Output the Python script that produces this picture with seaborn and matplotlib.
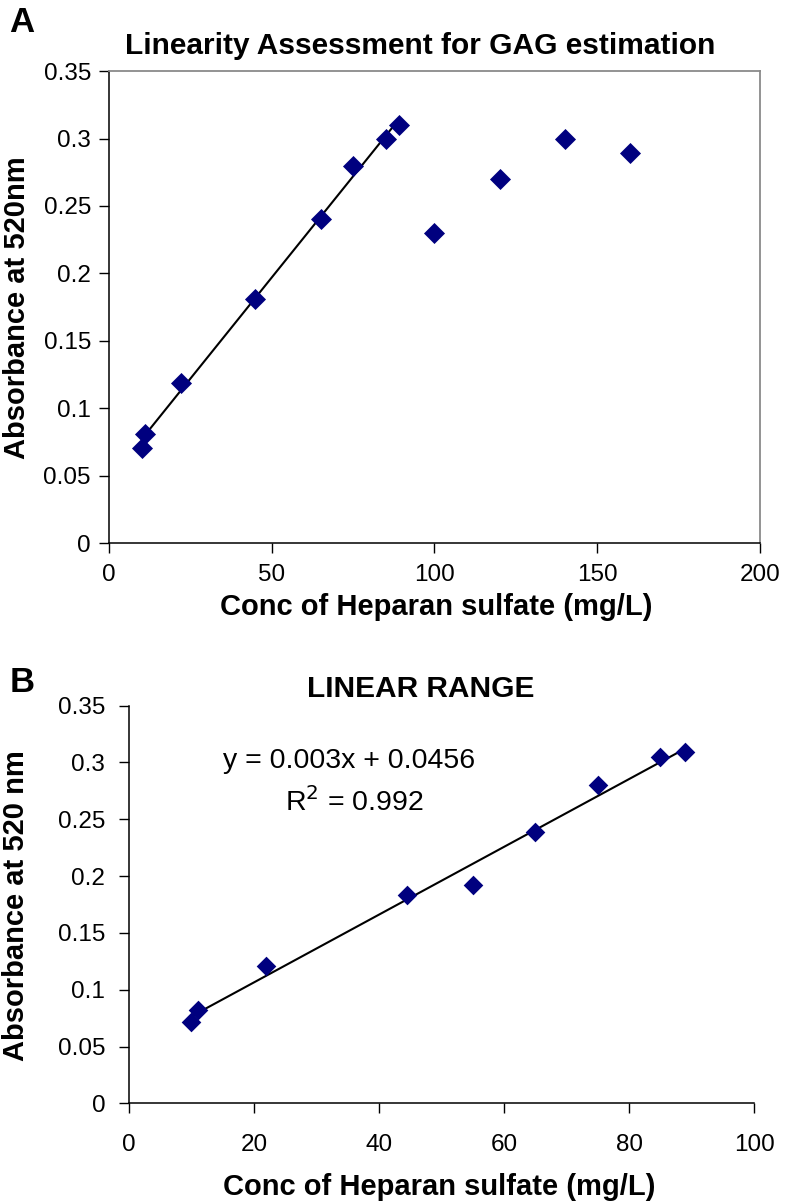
import numpy as np
import pandas as pd
import matplotlib
matplotlib.use("Agg")
import matplotlib.pyplot as plt
import seaborn as sns


# =========================================================
# DATA
# =========================================================
# panel A: full concentration range
conc_a = [10, 11, 22, 45, 65, 75, 85, 89, 100, 120, 140, 160]
abs_a = [0.071, 0.081, 0.119, 0.181, 0.240, 0.280, 0.300, 0.310,
         0.230, 0.270, 0.300, 0.289]
n_linear_a = 8  # first points used for the trend line

# panel B: linear range only
conc_b = [10, 11, 22, 44.5, 55, 65, 75, 85, 89]
abs_b = [0.072, 0.082, 0.121, 0.183, 0.192, 0.239, 0.280, 0.305, 0.309]

eq_text = "y = 0.003x + 0.0456"
r2_text = "R$^2$ = 0.992"

xticks_a = [0, 50, 100, 150, 200]
xticks_b = [0, 20, 40, 60, 80, 100]
yticks = [0, 0.05, 0.1, 0.15, 0.2, 0.25, 0.3, 0.35]

NAVY = "#00007f"

sns.set_theme(style="ticks")
plt.rcParams["font.family"] = ["Liberation Sans", "DejaVu Sans"]
plt.rcParams["text.color"] = "black"
plt.rcParams["axes.labelcolor"] = "black"
plt.rcParams["xtick.color"] = "black"
plt.rcParams["ytick.color"] = "black"

fig = plt.figure(figsize=(7.86, 12.04), dpi=100)
ax_a = fig.add_axes([0.1387, 0.5487, 0.8280, 0.3923])
ax_b = fig.add_axes([0.1641, 0.0835, 0.7952, 0.3304])


def fit_line(x, y):
    k, b = np.polyfit(x, y, 1)
    xs = np.array([min(x), max(x)])
    return pd.DataFrame({"x": xs, "y": k * xs + b})


def style_axes(ax, xticks, xmax, label_y, tick_pad_x, tick_pad_y):
    ax.set_xlim(0, xmax)
    ax.set_ylim(0, 0.35)
    ax.set_xticks(xticks)
    ax.set_yticks(yticks)
    ax.set_yticklabels([f"{v:g}" for v in yticks])
    ax.tick_params(axis="both", direction="out", length=7, width=1,
                   color="black", labelsize=17.5, labelcolor="black")
    ax.tick_params(axis="x", pad=tick_pad_x)
    ax.tick_params(axis="y", pad=tick_pad_y)
    for side in ["left", "bottom"]:
        ax.spines[side].set_color("black")
        ax.spines[side].set_linewidth(1.1)
    ax.set_xlabel("Conc of Heparan sulfate (mg/L)", fontsize=21,
                  fontweight="bold", color="black")
    ax.set_ylabel(label_y, fontsize=21, fontweight="bold", color="black")
    ax.xaxis.label.set_va("center")
    ax.yaxis.label.set_va("center")


# =========================================================
# PANEL A
# =========================================================
df_a = pd.DataFrame({"x": conc_a, "y": abs_a})
sns.lineplot(data=fit_line(conc_a[:n_linear_a], abs_a[:n_linear_a]),
             x="x", y="y", color="black", linewidth=1.5, ax=ax_a)
sns.scatterplot(data=df_a, x="x", y="y", marker="D", s=115, color=NAVY,
                linewidth=0, ax=ax_a, zorder=3)

style_axes(ax_a, xticks_a, 200, "Absorbance at 520nm", 8, 6)
sns.despine(ax=ax_a, top=False, right=False)
for side in ["top", "right"]:
    ax_a.spines[side].set_color("#8a8a8a")
    ax_a.spines[side].set_linewidth(1.3)
ax_a.xaxis.set_label_coords(0.503, -0.134)
ax_a.yaxis.set_label_coords(-0.141, 0.5)
ax_a.text(0.478, 1.054, "Linearity Assessment for GAG estimation",
          transform=ax_a.transAxes, ha="center", va="center",
          fontsize=21.5, fontweight="bold")

# =========================================================
# PANEL B
# =========================================================
df_b = pd.DataFrame({"x": conc_b, "y": abs_b})
sns.lineplot(data=fit_line(conc_b, abs_b), x="x", y="y", color="black",
             linewidth=1.5, ax=ax_b)
sns.scatterplot(data=df_b, x="x", y="y", marker="D", s=100, color=NAVY,
                linewidth=0, ax=ax_b, zorder=3)

style_axes(ax_b, xticks_b, 100, "Absorbance at 520 nm", 15, 10)
sns.despine(ax=ax_b)
ax_b.xaxis.set_label_coords(0.497, -0.211)
ax_b.yaxis.set_label_coords(-0.181, 0.497)
ax_b.text(0.466, 1.042, "LINEAR RANGE", transform=ax_b.transAxes,
          ha="center", va="center", fontsize=21.5, fontweight="bold")
ax_b.text(0.352, 0.861, eq_text, transform=ax_b.transAxes,
          ha="center", va="center", fontsize=20.5)
ax_b.text(0.360, 0.758, r2_text, transform=ax_b.transAxes,
          ha="center", va="center", fontsize=20.5)

# panel letters
fig.text(0.028, 0.981, "A", fontsize=25, fontweight="bold",
         ha="center", va="center")
fig.text(0.028, 0.433, "B", fontsize=25, fontweight="bold",
         ha="center", va="center")

fig.savefig("out.png", dpi=100)
